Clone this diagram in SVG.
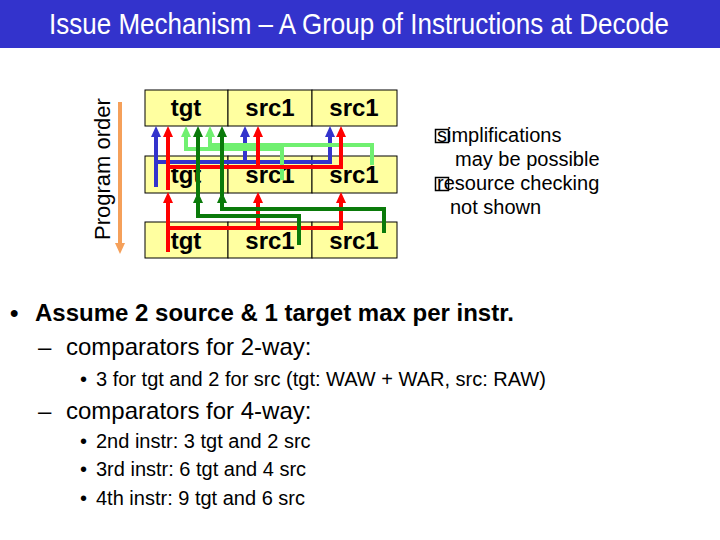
<svg xmlns="http://www.w3.org/2000/svg" width="720" height="540" viewBox="0 0 720 540">
<style>
.t{font-family:"Liberation Sans",Arial,sans-serif;fill:#000}
.cell{fill:#FFFFA0;stroke:#000;stroke-width:1}
.ct{font-family:"Liberation Sans",Arial,sans-serif;font-weight:bold;font-size:24px;text-anchor:middle}
.ln{fill:none;stroke-width:4;stroke-linejoin:miter}
.b{stroke:#3333CC;marker-end:url(#ab)}
.r{stroke:#FF0000;marker-end:url(#ar)}
.lg{stroke:#70F070;marker-end:url(#alg)}
.dg{stroke:#0A7A0A;marker-end:url(#adg)}
</style>
<defs>
<marker id="ab" markerUnits="userSpaceOnUse" markerWidth="12" markerHeight="12" refX="4" refY="5" orient="auto"><path d="M0,0 L11,5 L0,10 z" fill="#3333CC"/></marker>
<marker id="ar" markerUnits="userSpaceOnUse" markerWidth="12" markerHeight="12" refX="4" refY="5" orient="auto"><path d="M0,0 L11,5 L0,10 z" fill="#FF0000"/></marker>
<marker id="alg" markerUnits="userSpaceOnUse" markerWidth="12" markerHeight="12" refX="4" refY="5" orient="auto"><path d="M0,0 L11,5 L0,10 z" fill="#70F070"/></marker>
<marker id="adg" markerUnits="userSpaceOnUse" markerWidth="12" markerHeight="12" refX="4" refY="5" orient="auto"><path d="M0,0 L11,5 L0,10 z" fill="#0A7A0A"/></marker>
<marker id="ao" markerUnits="userSpaceOnUse" markerWidth="12" markerHeight="12" refX="4" refY="5" orient="auto"><path d="M0,0 L11,5 L0,10 z" fill="#F5A05A"/></marker>
</defs>
<rect width="720" height="540" fill="#fff"/>
<g id="title">
<rect x="0" y="0" width="720" height="48" fill="#3333CC"/>
<text transform="translate(359,34) scale(1,1.12)" text-anchor="middle" font-family="'Liberation Sans',Arial,sans-serif" font-size="26" fill="#fff">Issue Mechanism – A Group of Instructions at Decode</text>
</g>
<g id="program-order">
<line x1="120" y1="102" x2="120" y2="247" stroke="#F5A05A" stroke-width="4" marker-end="url(#ao)"/>
<text class="t" font-size="22" transform="translate(110,240) rotate(-90)">Program order</text>
</g>
<g id="row1">
<rect class="cell" x="145" y="90" width="83" height="36"/>
<rect class="cell" x="228" y="90" width="84" height="36"/>
<rect class="cell" x="312" y="90" width="85" height="36"/>
<text class="ct" x="186" y="116">tgt</text>
<text class="ct" x="270" y="116">src1</text>
<text class="ct" x="354" y="116">src1</text>
</g>
<g id="row2">
<rect class="cell" x="145" y="156" width="83" height="37"/>
<rect class="cell" x="228" y="156" width="84" height="37"/>
<rect class="cell" x="312" y="156" width="85" height="37"/>
<text class="ct" x="186" y="183">tgt</text>
<text class="ct" x="270" y="183">src1</text>
<text class="ct" x="354" y="183">src1</text>
</g>
<g id="row3">
<rect class="cell" x="145" y="222" width="83" height="36"/>
<rect class="cell" x="228" y="222" width="84" height="36"/>
<rect class="cell" x="312" y="222" width="85" height="36"/>
<text class="ct" x="186" y="249">tgt</text>
<text class="ct" x="270" y="249">src1</text>
<text class="ct" x="354" y="249">src1</text>
</g>
<g id="connectors">
<path class="ln b" d="M156 187 V133"/>
<path class="ln b" d="M156 162 H330 V133"/>
<path class="ln b" d="M245 162 V133"/>
<path class="ln lg" d="M282 180 V149 H186 V133"/>
<path class="ln lg" d="M372 165 V145 H210 V133"/>
<path class="ln r" d="M168 190 V133"/>
<path class="ln r" d="M168 167 H341 V133"/>
<path class="ln r" d="M258 167 V133"/>
<path class="ln r" d="M168 252 V199"/>
<path class="ln r" d="M168 228 H341 V199"/>
<path class="ln r" d="M258 228 V199"/>
<path class="ln dg" d="M299 245 V216 H198 V199"/>
<path class="ln dg" d="M198 196 V133"/>
<path class="ln dg" d="M384 233 V209 H222 V199"/>
<path class="ln dg" d="M222 196 V133"/>
</g>
<g id="note" class="t" font-size="20">
<rect x="435.5" y="129.5" width="13" height="13" fill="none" stroke="#000" stroke-width="1.5"/>
<text x="437" y="142">simplifications</text>
<text x="455" y="166">may be possible</text>
<rect x="435.5" y="177.5" width="13" height="13" fill="none" stroke="#000" stroke-width="1.5"/>
<text x="437" y="190">resource checking</text>
<text x="450" y="214">not shown</text>
</g>
<g id="bullets" class="t">
<text x="10" y="321" font-size="24" font-weight="bold">•</text>
<text x="35" y="321" font-size="24" font-weight="bold">Assume 2 source &amp; 1 target max per instr.</text>
<text x="38" y="355" font-size="24">–</text>
<text x="66" y="355" font-size="24">comparators for 2-way:</text>
<text x="80" y="386" font-size="20">•</text>
<text x="96" y="386" font-size="20">3 for tgt and 2 for src (tgt: WAW + WAR, src: RAW)</text>
<text x="38" y="419" font-size="24">–</text>
<text x="66" y="419" font-size="24">comparators for 4-way:</text>
<text x="80" y="448" font-size="20">•</text>
<text x="96" y="448" font-size="20">2nd instr: 3 tgt and 2 src</text>
<text x="80" y="476" font-size="20">•</text>
<text x="96" y="476" font-size="20">3rd instr: 6 tgt and 4 src</text>
<text x="80" y="505" font-size="20">•</text>
<text x="96" y="505" font-size="20">4th instr: 9 tgt and 6 src</text>
</g>
</svg>
